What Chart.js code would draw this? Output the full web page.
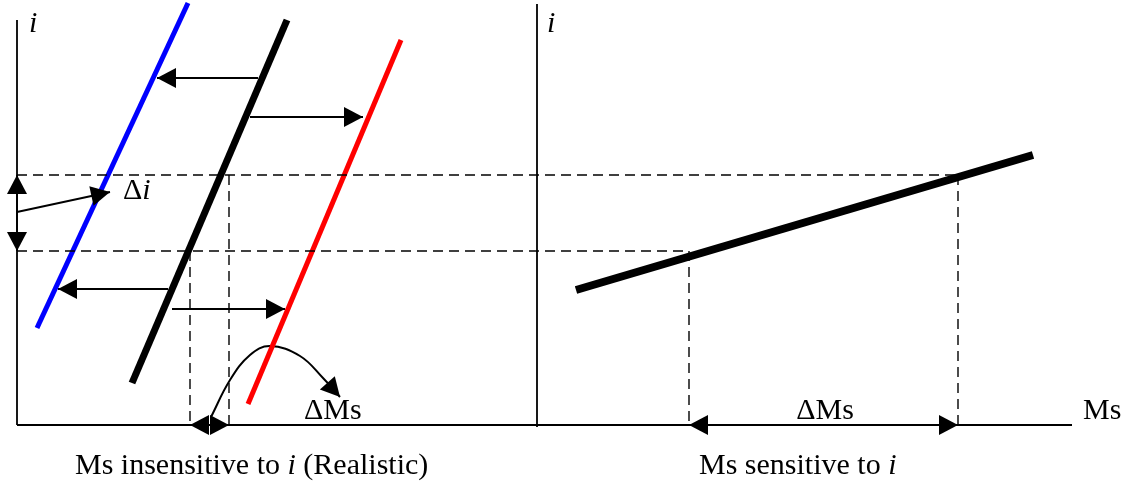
<!DOCTYPE html>
<html>
<head>
<meta charset="utf-8">
<script src="https://cdn.jsdelivr.net/npm/chart.js@4.4.1/dist/chart.umd.min.js"></script>
<style>
    html, body { margin: 0; padding: 0; background: #ffffff; }
    #wrap { width: 1125px; height: 483px; }
</style>
</head>
<body>
<div id="wrap"><canvas id="moneyChart" width="1125" height="483"></canvas></div>
<script>
// Units: x = money supply (Ms), y = interest rate (i); origin where the axes cross
const leftIAxis = [{x: 0, y: 405}, {x: 0, y: 0}];
const rightIAxis = [{x: 520, y: 421}, {x: 520, y: -2}];
const msAxis = [{x: 0, y: 0}, {x: 1055, y: 0}];

// left panel: Ms insensitive to i
const blueSupply = [{x: 171, y: 422}, {x: 20, y: 97}];
const blackSupply = [{x: 270, y: 405}, {x: 115, y: 42}];
const redSupply = [{x: 384, y: 385}, {x: 231, y: 21}];

// right panel: Ms sensitive to i
const sensitiveSupply = [{x: 559, y: 135}, {x: 1016, y: 270}];

const iHigh = 250;
const iLow = 174;
const msLeft = [173, 212];
const msRight = [672, 941];

// shift arrows (black -> blue, black -> red)
const shiftArrows = [
    [{x: 241, y: 347}, {x: 140, y: 347}],
    [{x: 233, y: 308}, {x: 346, y: 308}],
    [{x: 151, y: 136}, {x: 41, y: 136}],
    [{x: 155, y: 116}, {x: 268, y: 116}]
];
const deltaIPointer = [{x: 0, y: 213}, {x: 93, y: 233}];
const curvedPointer = [{x: 194, y: 8}, {x: 213, y: 45}, {x: 233, y: 70}, {x: 253, y: 79}, {x: 283, y: 69}, {x: 306, y: 47}, {x: 323, y: 28}];

const labels = [
    {text: 'i', x: 12, y: 393, italic: true, align: 'left'},
    {text: 'i', x: 530, y: 393, italic: true, align: 'left'},
    {text: 'Δ', x: 106, y: 226, align: 'left', tail: 'i'},
    {text: 'ΔMs', x: 287, y: 6, align: 'left'},
    {text: 'ΔMs', x: 808, y: 6, align: 'center'},
    {text: 'Ms', x: 1066, y: 6, align: 'left'},
    {text: 'Ms insensitive to ', x: 58, y: -49, align: 'left', tail: 'i', after: ' (Realistic)'},
    {text: 'Ms sensitive to ', x: 682, y: -49, align: 'left', tail: 'i'}
];

const FONT = '"Liberation Serif", "Times New Roman", serif';

function line(data, color, width, extra) {
    return Object.assign({
        data: data,
        showLine: true,
        borderColor: color,
        backgroundColor: color,
        borderWidth: width,
        pointRadius: 0,
        tension: 0,
        borderCapStyle: 'butt'
    }, extra || {});
}

const datasets = [
    line(leftIAxis, '#000', 1.8),
    line(rightIAxis, '#000', 1.8),
    line(msAxis, '#000', 1.8),
    line([{x: 0, y: iHigh}, {x: msRight[1], y: iHigh}], '#000', 1.4, {borderDash: [10, 6]}),
    line([{x: 0, y: iLow}, {x: msRight[0], y: iLow}], '#000', 1.4, {borderDash: [10, 6]}),
    line([{x: msLeft[0], y: iLow}, {x: msLeft[0], y: 0}], '#000', 1.4, {borderDash: [10, 6]}),
    line([{x: msLeft[1], y: iHigh}, {x: msLeft[1], y: 0}], '#000', 1.4, {borderDash: [10, 6]}),
    line([{x: msRight[0], y: iLow}, {x: msRight[0], y: 0}], '#000', 1.4, {borderDash: [10, 6]}),
    line([{x: msRight[1], y: iHigh}, {x: msRight[1], y: 0}], '#000', 1.4, {borderDash: [10, 6]}),
    line(blueSupply, '#0000ff', 5),
    line(blackSupply, '#000', 7),
    line(redSupply, '#ff0000', 5),
    line(sensitiveSupply, '#000', 8),
    line([{x: 0, y: (iHigh + iLow) / 2}, {x: 0, y: iHigh}], '#000', 1.8, {arrowEnd: true}),
    line([{x: 0, y: (iHigh + iLow) / 2}, {x: 0, y: iLow}], '#000', 1.8, {arrowEnd: true}),
    line(deltaIPointer, '#000', 1.8, {arrowEnd: true}),
    line([{x: msLeft[0], y: 0}, {x: msLeft[1], y: 0}], '#000', 1.8, {arrowEnd: true, arrowStart: true}),
    line([{x: msRight[0], y: 0}, {x: msRight[1], y: 0}], '#000', 1.8, {arrowEnd: true, arrowStart: true}),
    line(curvedPointer, '#000', 2, {tension: 0.4, arrowEnd: true})
];
shiftArrows.forEach(a => datasets.push(line(a, '#000', 1.8, {arrowEnd: true})));

function drawHead(ctx, tip, from, len, half) {
    const ang = Math.atan2(tip.y - from.y, tip.x - from.x);
    ctx.save();
    ctx.translate(tip.x, tip.y);
    ctx.rotate(ang);
    ctx.beginPath();
    ctx.moveTo(0, 0);
    ctx.lineTo(-len, -half);
    ctx.lineTo(-len, half);
    ctx.closePath();
    ctx.fillStyle = '#000';
    ctx.fill();
    ctx.restore();
}

const arrowHeads = {
    id: 'arrowHeads',
    afterDatasetsDraw(chart) {
        const ctx = chart.ctx;
        chart.data.datasets.forEach((ds, i) => {
            const pts = chart.getDatasetMeta(i).data;
            if (ds.arrowEnd) drawHead(ctx, pts[pts.length - 1], pts[pts.length - 2], 19, 10);
            if (ds.arrowStart) drawHead(ctx, pts[0], pts[1], 19, 10);
        });
    }
};

const textLabels = {
    id: 'textLabels',
    afterDraw(chart) {
        const ctx = chart.ctx;
        const xs = chart.scales.x, ys = chart.scales.y;
        ctx.save();
        ctx.fillStyle = '#000';
        ctx.textBaseline = 'alphabetic';
        labels.forEach(l => {
            const px = xs.getPixelForValue(l.x);
            const py = ys.getPixelForValue(l.y);
            const normal = '30px ' + FONT;
            const italic = 'italic 30px ' + FONT;
            ctx.font = l.italic ? italic : normal;
            let total = ctx.measureText(l.text).width;
            ctx.font = italic;
            const tailW = l.tail ? ctx.measureText(l.tail).width : 0;
            ctx.font = normal;
            const afterW = l.after ? ctx.measureText(l.after).width : 0;
            total += tailW + afterW;
            let cx = l.align === 'center' ? px - total / 2 : px;
            ctx.textAlign = 'left';
            ctx.font = l.italic ? italic : normal;
            ctx.fillText(l.text, cx, py);
            cx += ctx.measureText(l.text).width;
            if (l.tail) {
                ctx.font = italic;
                ctx.fillText(l.tail, cx, py);
                cx += tailW;
            }
            if (l.after) {
                ctx.font = normal;
                ctx.fillText(l.after, cx, py);
            }
        });
        ctx.restore();
    }
};

new Chart(document.getElementById('moneyChart'), {
    type: 'scatter',
    data: {datasets: datasets},
    options: {
        responsive: false,
        maintainAspectRatio: false,
        animation: false,
        layout: {padding: 0},
        plugins: {
            legend: {display: false},
            tooltip: {enabled: false}
        },
        scales: {
            x: {type: 'linear', min: -17, max: 1108, display: false},
            y: {type: 'linear', min: -58, max: 425, display: false}
        }
    },
    plugins: [arrowHeads, textLabels]
});
</script>
</body>
</html>
